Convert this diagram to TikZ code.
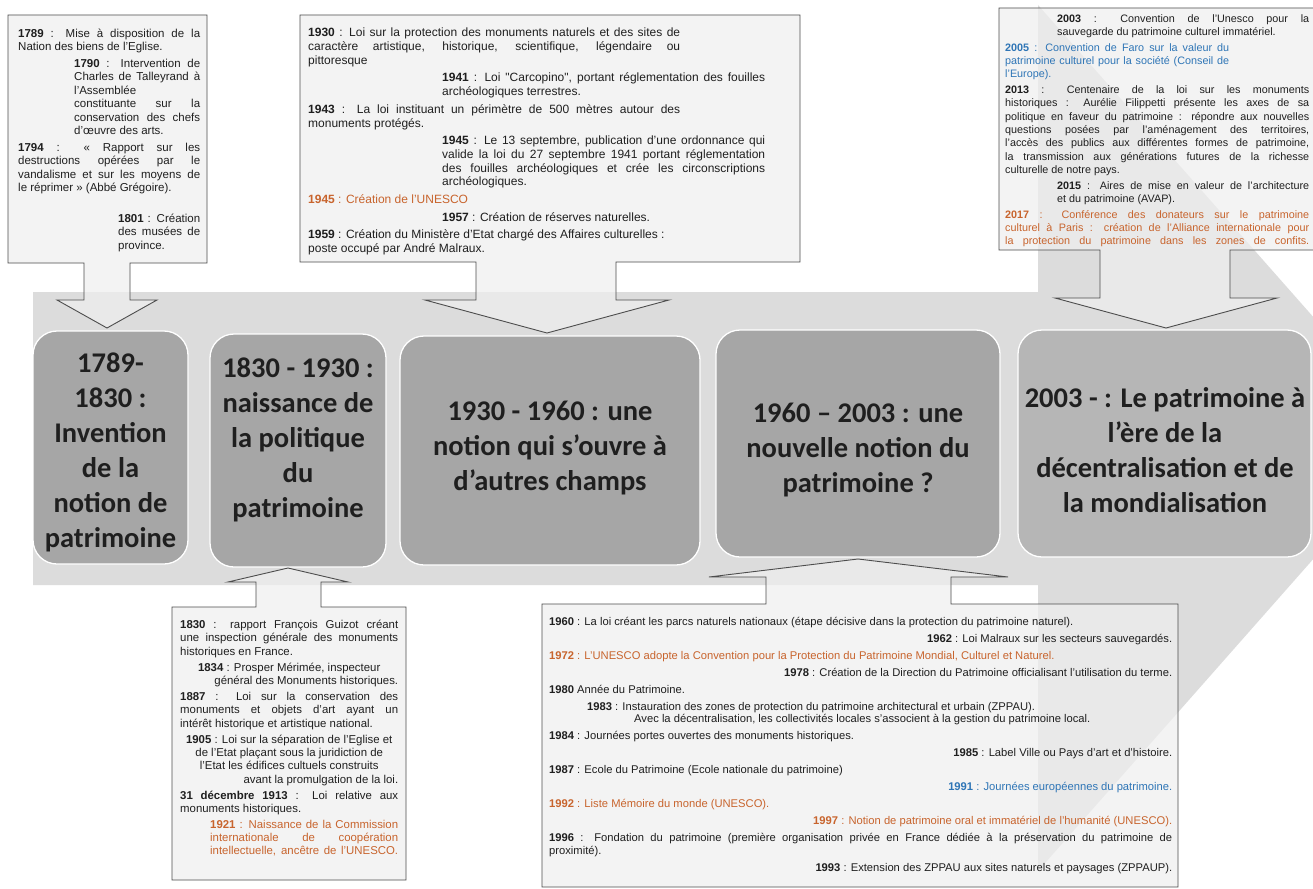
\documentclass[tikz,border=0pt]{standalone}
\usepackage{fontspec}
\setmainfont{Liberation Sans}
\newfontfamily\boxfont{Carlito}
\font\qfont="Liberation Sans" at 12pt
\definecolor{bandgrey}{HTML}{DCDCDC}
\definecolor{boxgrey}{HTML}{A6A6A6}
\definecolor{calloutfill}{HTML}{EFEFEF}
\definecolor{calloutline}{HTML}{4D4D4D}
\definecolor{orangetxt}{HTML}{C8642D}
\definecolor{bluetxt}{HTML}{2E75B6}
\newcommand{\yr}[1]{\textbf{#1}}
\newcommand{\justifyall}{\parindent=0pt\leftskip=0pt\rightskip=0pt\spaceskip=0pt\xspaceskip=0pt\parfillskip=0pt plus 1fil\relax}
\tikzset{
  period/.style={draw=white, line width=1.3pt, rounded corners=24pt, fill=boxgrey, inner sep=0pt},
  periodtext/.style={text=black!88, font=\boxfont\bfseries\fontsize{28.5}{35}\selectfont, align=center, inner sep=0pt},
  callout/.style={draw=calloutline, line width=0.9pt, fill=calloutfill, fill opacity=0.72},
  note/.style={anchor=north west, inner sep=0pt, text=black!88},
}
\begin{document}
\hyphenpenalty=10000 \exhyphenpenalty=10000 \tolerance=9999 \emergencystretch=20pt
\begin{tikzpicture}[x=1pt,y=-1pt]
\useasboundingbox (0,0) rectangle (1313,888);
\clip (0,0) rectangle (1313,888);
\fill[white] (0,0) rectangle (1313,888);
% background arrow
\fill[bandgrey] (33,292) -- (1038,292) -- (1038,5) -- (1420,438) -- (1038,871) -- (1038,585) -- (33,585) -- cycle;
% period boxes
\node[period, minimum width=155pt, minimum height=233pt] (p1) at (110.5,447.5) {};
\node[period, minimum width=176pt, minimum height=233pt] (p2) at (298,450.5) {};
\node[period, minimum width=300pt, minimum height=229pt] (p3) at (550,450.5) {};
\node[period, minimum width=284pt, minimum height=227pt] (p4) at (858,443.5) {};
\node[period, fill opacity=0.7, minimum width=293pt, minimum height=227pt] (p5) at (1164.5,443.5) {};
\node[periodtext] (t1) at (110.5,452) {1789-\\1830 :\\Invention\\de la\\notion de\\patrimoine};
\node[periodtext] (t2) at (298,440) {1830 - 1930 :\\naissance de\\la politique\\du\\patrimoine};
\node[periodtext] (t3) at (550,448) {1930 - 1960 : une\\notion qui s’ouvre à\\d’autres champs};
\node[periodtext] (t4) at (858,450) {1960 – 2003 : une\\nouvelle notion du\\patrimoine ?};
\node[periodtext] (t5) at (1165,450) {2003 - : Le patrimoine à\\l’ère de la\\décentralisation et de\\la mondialisation};
% callouts pointing down
\draw[callout] (8,15) -- (207,15) -- (207,263) -- (130,263) -- (130,300) -- (157,300) -- (107,328) -- (57,300) -- (84,300) -- (84,263) -- (8,263) -- cycle;
\draw[callout] (300,15) -- (800,15) -- (800,262) -- (616,262) -- (616,300) -- (669,300) -- (547,333) -- (425,300) -- (476,300) -- (476,262) -- (300,262) -- cycle;
\draw[callout] (999,8) -- (1330,8) -- (1330,250) -- (1230,250) -- (1230,298) -- (1277,298) -- (1166,328) -- (1055,298) -- (1100,298) -- (1100,250) -- (999,250) -- cycle;
% callouts pointing up
\draw[callout] (172,607) -- (256,607) -- (256,582) -- (228,582) -- (288,568) -- (348,582) -- (321,582) -- (321,607) -- (406,607) -- (406,880) -- (172,880) -- cycle;
\draw[callout] (542,604) -- (766,604) -- (766,577) -- (709,577) -- (858,559) -- (1008,577) -- (951,577) -- (951,604) -- (1178,604) -- (1178,887) -- (542,887) -- cycle;
% top-left text
\node[note, text width=182pt, font=\fontsize{11.5}{13.4}\selectfont] (tl) at (18,28.5) {\justifyall\parskip=3.5pt
\yr{1789} : Mise à disposition de la\linebreak Nation des biens de l'Eglise.\par
{\leftskip=56pt \yr{1790} : Intervention de\linebreak Charles de Talleyrand à\linebreak l'Assemblée\newline constituante sur la\linebreak conservation des chefs\linebreak d'œuvre des arts.\par}
\yr{1794} : «~Rapport sur les\linebreak destructions opérées par le\linebreak vandalisme et sur les moyens de\linebreak le réprimer~» (Abbé Grégoire).\par
\vspace{14pt}
{\leftskip=100pt \yr{1801} : Création\linebreak des musées de\linebreak province.\par}};
% top-middle text
\node[note, text width=484pt, font=\fontsize{12}{13.7}\selectfont] (tm) at (308,28) {\justifyall\parskip=4pt
{\rightskip=112pt \yr{1930} : Loi sur la protection des monuments naturels et des sites de\linebreak caractère artistique, historique, scientifique, légendaire ou\linebreak pittoresque\par}
{\leftskip=134pt\rightskip=27pt \yr{1941} : Loi {\qfont"}Carcopino{\qfont"}, portant réglementation des fouilles\linebreak archéologiques terrestres.\par}
{\rightskip=112pt \yr{1943} : La loi instituant un périmètre de 500 mètres autour des\linebreak monuments protégés.\par}
{\leftskip=134pt\rightskip=27pt \yr{1945} : Le 13 septembre, publication d'une ordonnance qui\linebreak valide la loi du 27 septembre 1941 portant réglementation\linebreak des fouilles archéologiques et crée les circonscriptions\linebreak archéologiques.\par}
{\color{orangetxt}\yr{1945} : Création de l'UNESCO\par}
{\leftskip=134pt \yr{1957} : Création de réserves naturelles.\par}
{\rightskip=112pt \yr{1959} : Création du Ministère d'Etat chargé des Affaires culturelles :\newline poste occupé par André Malraux.\par}};
% top-right text
\node[note, text width=304pt, font=\fontsize{10.8}{13.3}\selectfont] (tr) at (1005,14) {\justifyall\parskip=2.5pt
{\leftskip=52pt \yr{2003} : Convention de l'Unesco pour la\linebreak sauvegarde du patrimoine culturel immatériel.\par}
{\color{bluetxt}\rightskip=80pt \yr{2005} : Convention de Faro sur la valeur du\linebreak patrimoine culturel pour la société (Conseil de\linebreak l'Europe).\par}
\yr{2013} : Centenaire de la loi sur les monuments\linebreak historiques : Aurélie Filippetti présente les axes de sa\linebreak politique en faveur du patrimoine : répondre aux nouvelles\linebreak questions posées par l'aménagement des territoires,\linebreak l'accès des publics aux différentes formes de patrimoine,\linebreak la transmission aux générations futures de la richesse\linebreak culturelle de notre pays.\par
{\leftskip=52pt \yr{2015} : Aires de mise en valeur de l'architecture\linebreak et du patrimoine (AVAP).\par}
{\color{orangetxt}\parfillskip=0pt \yr{2017} : Conférence des donateurs sur le patrimoine\linebreak culturel à Paris : création de l'Alliance internationale pour\linebreak la protection du patrimoine dans les zones de confits.\par}};
% bottom-left text
\node[note, text width=218pt, font=\fontsize{11.4}{13.3}\selectfont] (bl) at (180,620) {\justifyall\parskip=2.7pt
\yr{1830} : rapport François Guizot créant\linebreak une inspection générale des monuments\linebreak historiques en France.\par
{\raggedleft \yr{1834} : Prosper Mérimée, inspecteur\newline général des Monuments historiques.\par}
\yr{1887} : Loi sur la conservation des\linebreak monuments et objets d'art ayant un\linebreak intérêt historique et artistique national.\par
{\raggedleft \yr{1905} : Loi sur la séparation de l'Eglise et\newline de l'Etat plaçant sous la juridiction de\newline l'Etat les édifices cultuels construits\newline avant la promulgation de la loi.\par}
\yr{31 décembre 1913} : Loi relative aux\linebreak monuments historiques.\par
{\color{orangetxt}\leftskip=30pt\parfillskip=0pt \yr{1921} : Naissance de la Commission\linebreak internationale de coopération\linebreak intellectuelle, ancêtre de l'UNESCO.\par}};
% bottom-middle text
\node[note, text width=623pt, font=\fontsize{11.2}{12.5}\selectfont] (bm) at (549,617) {\justifyall\parskip=4.5pt
\yr{1960} : La loi créant les parcs naturels nationaux (étape décisive dans la protection du patrimoine naturel).\par
{\raggedleft \yr{1962} : Loi Malraux sur les secteurs sauvegardés.\par}
{\color{orangetxt}\yr{1972} : L'UNESCO adopte la Convention pour la Protection du Patrimoine Mondial, Culturel et Naturel.\par}
{\raggedleft \yr{1978} : Création de la Direction du Patrimoine officialisant l'utilisation du terme.\par}
\yr{1980} Année du Patrimoine.\par
{\leftskip=38pt \yr{1983} : Instauration des zones de protection du patrimoine architectural et urbain (ZPPAU).\newline\hspace*{47pt}Avec la décentralisation, les collectivités locales s'associent à la gestion du patrimoine local.\par}
\yr{1984} : Journées portes ouvertes des monuments historiques.\par
{\raggedleft \yr{1985} : Label Ville ou Pays d'art et d'histoire.\par}
\yr{1987} : Ecole du Patrimoine (Ecole nationale du patrimoine)\par
{\raggedleft\color{bluetxt} \yr{1991} : Journées européennes du patrimoine.\par}
{\color{orangetxt}\yr{1992} : Liste Mémoire du monde (UNESCO).\par}
{\raggedleft\color{orangetxt} \yr{1997} : Notion de patrimoine oral et immatériel de l'humanité (UNESCO).\par}
\yr{1996} : Fondation du patrimoine (première organisation privée en France dédiée à la préservation du patrimoine de\linebreak proximité).\par
{\raggedleft \yr{1993} : Extension des ZPPAU aux sites naturels et paysages (ZPPAUP).\par}};
\end{tikzpicture}
\end{document}
